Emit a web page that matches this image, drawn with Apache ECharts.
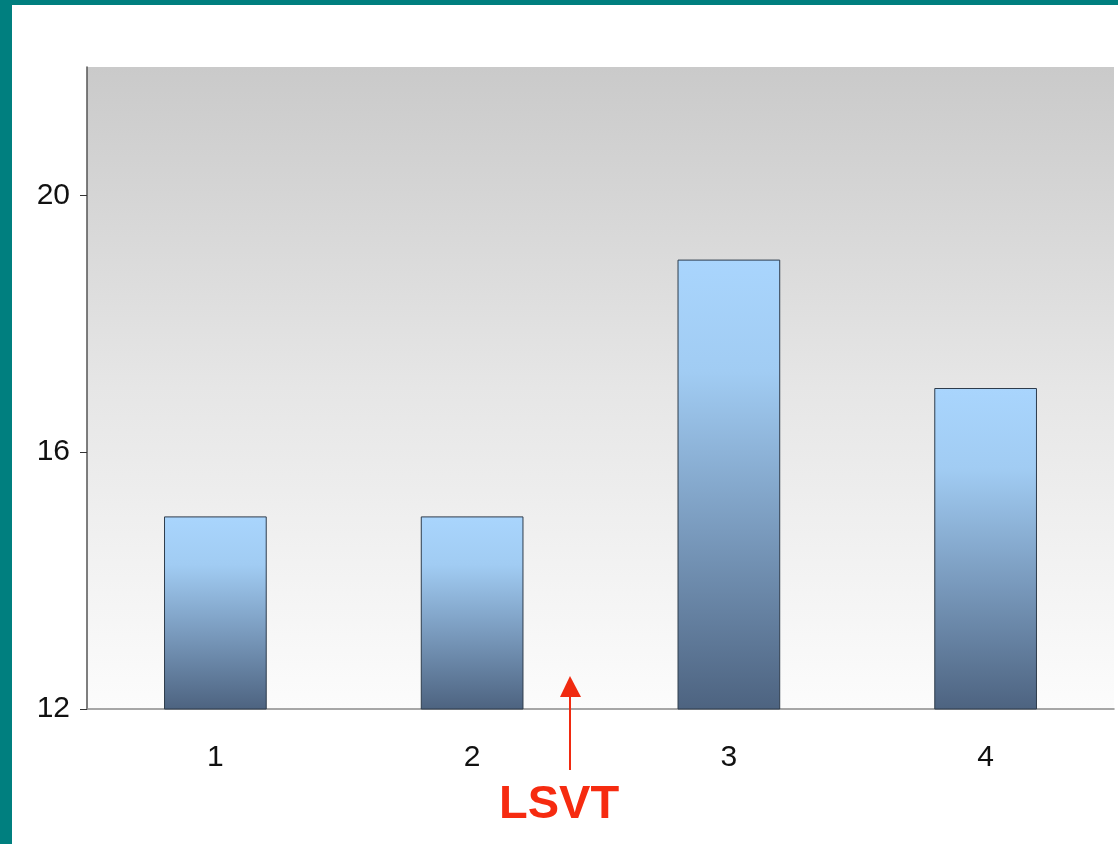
<!DOCTYPE html>
<html>
<head>
<meta charset="utf-8">
<script src="https://cdn.jsdelivr.net/npm/echarts@6/dist/echarts.min.js"></script>
<style>
html,body{margin:0;padding:0;background:#fff;}
#chart{width:1118px;height:844px;}
</style>
</head>
<body>
<div id="chart"></div>
<script>
const categories = ['1', '2', '3', '4'];
const values = [15, 15, 19, 17];
const yTicks = [12, 16, 20];
const annotationText = 'LSVT';

const chart = echarts.init(document.getElementById('chart'));
const labelFont = "'Liberation Sans Narrow', 'Arial Narrow', 'Liberation Sans', Arial, sans-serif";

chart.setOption({
  animation: false,
  backgroundColor: '#ffffff',
  grid: {
    left: 87, right: 4, top: 67, bottom: 135,
    show: true,
    borderWidth: 0,
    backgroundColor: new echarts.graphic.LinearGradient(0, 0, 0, 1, [
      {offset: 0, color: '#cacaca'},
      {offset: 0.5, color: '#e6e6e6'},
      {offset: 1, color: '#fcfcfc'}
    ])
  },
  xAxis: {
    type: 'category',
    data: categories,
    axisLine: {show: true, lineStyle: {color: '#8a8a8a', width: 1.5}},
    axisTick: {show: false},
    axisLabel: {fontFamily: labelFont, fontSize: 30, color: '#111', margin: 34}
  },
  yAxis: {
    type: 'value',
    min: 12, max: 22, interval: 4,
    splitLine: {show: false},
    axisLine: {show: true, lineStyle: {color: '#555', width: 1.5}},
    axisTick: {show: true, length: 7, customValues: yTicks, lineStyle: {color: '#333'}},
    axisLabel: {fontFamily: labelFont, fontSize: 30, color: '#111', margin: 17, customValues: yTicks}
  },
  series: [{
    type: 'bar',
    data: values,
    barWidth: '40%',
    itemStyle: {
      borderColor: '#2e3c4c',
      borderWidth: 1,
      color: new echarts.graphic.LinearGradient(0, 0, 0, 1, [
        {offset: 0, color: '#a9d5fd'},
        {offset: 0.25, color: '#a1ccf3'},
        {offset: 0.6, color: '#7a9bbe'},
        {offset: 1, color: '#4d6380'}
      ])
    }
  }],
  graphic: [
    {type: 'rect', shape: {x: 0, y: 0, width: 1118, height: 5}, style: {fill: '#007f7f'}, z: 100},
    {type: 'rect', shape: {x: 0, y: 0, width: 12, height: 844}, style: {fill: '#007f7f'}, z: 100},
    {type: 'line', shape: {x1: 570, y1: 770, x2: 570, y2: 694}, style: {stroke: '#f02a10', lineWidth: 2}, z: 100},
    {type: 'polygon', shape: {points: [[570, 676], [560, 697], [581, 697]]}, style: {fill: '#f02a10'}, z: 100},
    {type: 'text', left: 499, top: 782, style: {text: annotationText, fill: '#f62b10', font: "bold 47px 'Liberation Sans', Arial, sans-serif"}, z: 100}
  ]
});
</script>
</body>
</html>
